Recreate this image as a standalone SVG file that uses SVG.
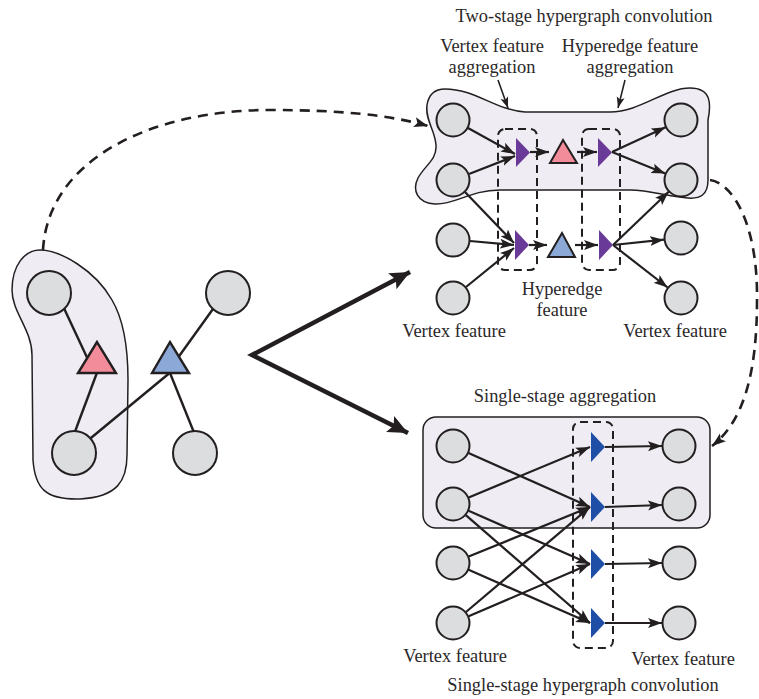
<svg xmlns="http://www.w3.org/2000/svg" width="759" height="699" viewBox="0 0 759 699">
<style>
text{font-family:"Liberation Serif","Times New Roman",serif;font-size:18.4px;fill:#2b2829;text-anchor:middle}
.v{fill:#dcdddf;stroke:#231f20;stroke-width:2}
.vs{fill:#dcdddf;stroke:#231f20;stroke-width:2}
.e{stroke:#231f20;stroke-width:2.2;fill:none;marker-end:url(#ah)}
.ln{stroke:#231f20;stroke-width:2.4;fill:none}
.box{fill:none;stroke:#231f20;stroke-width:2;stroke-dasharray:8 5}
.dash{fill:none;stroke:#231f20;stroke-width:2.6;stroke-dasharray:10 7}
.pu{fill:#6a3a98}
.bl{fill:#1e4ea6}
.region{fill:#efecf4;stroke:#231f20;stroke-width:1.5}
</style>
<defs>
<marker id="ah" markerUnits="userSpaceOnUse" markerWidth="15" markerHeight="11" refX="14" refY="5.5" orient="auto">
<path d="M0,0.5 L14,5.5 L0,10.5 L3,5.5 z" fill="#231f20"/>
</marker>
<marker id="big" markerUnits="userSpaceOnUse" markerWidth="22" markerHeight="18" refX="20" refY="9" orient="auto-start-reverse">
<path d="M0,0 L20,9 L0,18 L4,9 z" fill="#231f20"/>
</marker>
<marker id="lab" markerUnits="userSpaceOnUse" markerWidth="12" markerHeight="9" refX="11" refY="4.5" orient="auto">
<path d="M0,0.5 L11,4.5 L0,8.5 L2.5,4.5 z" fill="#231f20"/>
</marker>
</defs>

<!-- regions -->
<g id="left-hyperedge-region">
<path class="region" d="M40 250 C60 250 95 270 112 300 C125 322 128 350 128 380 L127 455 C127 480 118 497 80 499 C45 500 35 488 33 460 L32 355 C32 330 12 312 12 290 C12 265 25 250 40 250 Z"/>
</g>
<g id="two-stage-region">
<path class="region" d="M445 89 C475 89 495 110 525 112 L610 112 C640 112 665 88 690 88 C712 88 711 105 708 120 L708 180 C708 195 700 199 688 198 C670 197 650 190 630 190 L500 190 C470 190 455 205 435 204 C417 203 412 190 418 178 C425 165 437 160 436 145 C435 130 425 120 427 105 C429 93 436 89 445 89 Z"/>
</g>
<g id="single-stage-region">
<rect class="region" x="423" y="417" width="287" height="111" rx="13"/>
</g>

<!-- connectors -->
<g id="connectors">
<!-- left graph -->
<path class="ln" d="M62 304 L91 366"/>
<path class="ln" d="M98 370 L70 445"/>
<path class="ln" d="M218 302 L172 366"/>
<path class="ln" d="M168 368 L197 440"/>
<path class="ln" d="M172 371 L80 447"/>
<!-- big arrows -->
<path d="M410 272 L252 355 L408 433" fill="none" stroke="#231f20" stroke-width="4.5" stroke-linejoin="miter" marker-start="url(#big)" marker-end="url(#big)"/>
<!-- dashed curves -->
<path class="dash" d="M43 250 C48 160 150 110 270 110 C340 110 390 115 428 126" marker-end="url(#ah)"/>
<path class="dash" d="M710 180 C733 183 758 225 757 300 C757 370 745 420 712 446" marker-end="url(#ah)"/>
<!-- label pointers -->
<path d="M498 80 L508 108" stroke="#231f20" stroke-width="1.6" fill="none" marker-end="url(#lab)"/>
<path d="M625 80 L618 108" stroke="#231f20" stroke-width="1.6" fill="none" marker-end="url(#lab)"/>
<!-- two-stage -->
<path class="e" d="M468 128 L515 154"/>
<path class="e" d="M469 174 L515 156"/>
<path class="e" d="M465 192 L514 243"/>
<path class="e" d="M470 241 L514 245"/>
<path class="e" d="M466 287 L514 248"/>
<path class="e" d="M530 152 L549 152"/>
<path class="e" d="M577 152 L597 152"/>
<path class="e" d="M612 152 L665.6 127.2"/>
<path class="e" d="M612 152 L665.3 173.6"/>
<path class="e" d="M529 245 L547 245"/>
<path class="e" d="M575 245 L598 245"/>
<path class="e" d="M613 245 L668.7 191.8"/>
<path class="e" d="M613 245 L664 239.7"/>
<path class="e" d="M613 245 L667.6 287.5"/>
<!-- single-stage -->
<path class="e" d="M468.5 453 L590 507"/>
<path class="e" d="M468.7 497.5 L590 447"/>
<path class="e" d="M468.6 510.8 L590 564"/>
<path class="e" d="M465.8 515.1 L590 623"/>
<path class="e" d="M468.7 556.6 L590 507"/>
<path class="e" d="M468.6 569.8 L590 623"/>
<path class="e" d="M466 612 L590 507"/>
<path class="e" d="M468.6 616.3 L590 564"/>
<path class="e" d="M605 447 L662 446"/>
<path class="e" d="M605 507 L662 505"/>
<path class="e" d="M605 564 L662 563"/>
<path class="e" d="M605 623 L662 623"/>
</g>

<!-- dashed boxes -->
<g id="dashed-boxes">
<rect class="box" x="498" y="129" width="39" height="141" rx="7"/>
<rect class="box" x="582" y="129" width="38" height="141" rx="7"/>
<rect class="box" x="573" y="422" width="40" height="226" rx="7"/>
</g>

<!-- left graph nodes -->
<g id="left-v1"><circle class="v" cx="49" cy="293" r="22"/></g>
<g id="left-v2"><circle class="v" cx="228" cy="293" r="22"/></g>
<g id="left-v3"><circle class="v" cx="74" cy="453" r="22"/></g>
<g id="left-v4"><circle class="v" cx="195" cy="453" r="22"/></g>
<g id="left-e1"><polygon points="97,342 78,373 116,373" fill="#f28c9a" stroke="#231f20" stroke-width="2.4" stroke-linejoin="miter"/></g>
<g id="left-e2"><polygon points="170,342 152,373 189,373" fill="#8ba8d7" stroke="#231f20" stroke-width="2.4" stroke-linejoin="miter"/></g>

<!-- two-stage nodes -->
<g id="ts-in1"><circle class="vs" cx="453" cy="120" r="16.5"/></g>
<g id="ts-in2"><circle class="vs" cx="453" cy="180" r="16.5"/></g>
<g id="ts-in3"><circle class="vs" cx="453" cy="240" r="16.5"/></g>
<g id="ts-in4"><circle class="vs" cx="453" cy="298" r="16.5"/></g>
<g id="ts-out1"><circle class="vs" cx="681" cy="120" r="16.5"/></g>
<g id="ts-out2"><circle class="vs" cx="681" cy="180" r="16.5"/></g>
<g id="ts-out3"><circle class="vs" cx="681" cy="238" r="16.5"/></g>
<g id="ts-out4"><circle class="vs" cx="681" cy="298" r="16.5"/></g>
<g id="ts-agg1"><polygon class="pu" points="516,138 516,167 530,152.5"/></g>
<g id="ts-agg2"><polygon class="pu" points="515,230 515,260 529,245"/></g>
<g id="ts-he1"><polygon points="563,140 550,163 577,163" fill="#f28c9a" stroke="#231f20" stroke-width="2"/></g>
<g id="ts-he2"><polygon points="562,233 548,257 575,257" fill="#8ba8d7" stroke="#231f20" stroke-width="2"/></g>
<g id="ts-agg3"><polygon class="pu" points="598,138 598,167 612,152.5"/></g>
<g id="ts-agg4"><polygon class="pu" points="599,230 599,260 613,245"/></g>

<!-- single-stage nodes -->
<g id="ss-in1"><circle class="vs" cx="453" cy="446" r="16.5"/></g>
<g id="ss-in2"><circle class="vs" cx="453" cy="504" r="16.5"/></g>
<g id="ss-in3"><circle class="vs" cx="453" cy="563" r="16.5"/></g>
<g id="ss-in4"><circle class="vs" cx="453" cy="623" r="16.5"/></g>
<g id="ss-out1"><circle class="vs" cx="679" cy="446" r="16.5"/></g>
<g id="ss-out2"><circle class="vs" cx="679" cy="504" r="16.5"/></g>
<g id="ss-out3"><circle class="vs" cx="679" cy="563" r="16.5"/></g>
<g id="ss-out4"><circle class="vs" cx="679" cy="623" r="16.5"/></g>
<g id="ss-agg1"><polygon class="bl" points="591,432 591,462 605,447"/></g>
<g id="ss-agg2"><polygon class="bl" points="591,492 591,522 605,507"/></g>
<g id="ss-agg3"><polygon class="bl" points="591,549 591,579 605,564"/></g>
<g id="ss-agg4"><polygon class="bl" points="591,608 591,638 605,623"/></g>

<!-- labels -->
<g id="labels">
<text x="584" y="22">Two-stage hypergraph convolution</text>
<text x="492" y="52">Vertex feature</text>
<text x="492" y="73">aggregation</text>
<text x="630" y="52">Hyperedge feature</text>
<text x="630" y="73">aggregation</text>
<text x="562" y="295">Hyperedge</text>
<text x="562" y="316">feature</text>
<text x="454" y="337">Vertex feature</text>
<text x="675" y="337">Vertex feature</text>
<text x="565" y="402">Single-stage aggregation</text>
<text x="455" y="662">Vertex feature</text>
<text x="683" y="665">Vertex feature</text>
<text x="583" y="691">Single-stage hypergraph convolution</text>
</g>
</svg>
